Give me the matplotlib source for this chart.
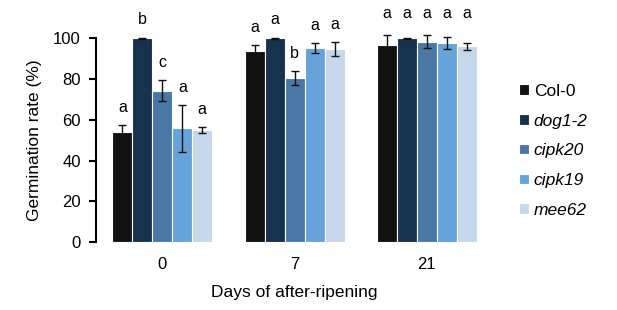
import matplotlib.pyplot as plt
import numpy as np

plt.rcParams['font.family'] = ['Liberation Sans', 'DejaVu Sans']

days = ['0', '7', '21']
lines = ['Col-0', 'dog1-2', 'cipk20', 'cipk19', 'mee62']
colors = ['#121212', '#17324d', '#4a78a6', '#67a3db', '#c5d7ea']

# germination rate (%) per line, one value per day group
col0 = [53.9, 93.9, 96.4]
dog12 = [100.0, 100.0, 100.0]
cipk20 = [74.3, 80.4, 98.3]
cipk19 = [55.8, 95.1, 97.6]
mee62 = [55.0, 94.6, 95.9]

col0_err = [3.4, 2.5, 5.0]
dog12_err = [0.3, 0.3, 0.3]
cipk20_err = [5.2, 3.5, 3.0]
cipk19_err = [11.4, 2.4, 2.8]
mee62_err = [1.5, 3.3, 1.7]

col0_sig = ['a', 'a', 'a']
dog12_sig = ['b', 'a', 'a']
cipk20_sig = ['c', 'b', 'a']
cipk19_sig = ['a', 'a', 'a']
mee62_sig = ['a', 'a', 'a']

values = [col0, dog12, cipk20, cipk19, mee62]
errors = [col0_err, dog12_err, cipk20_err, cipk19_err, mee62_err]
letters = [col0_sig, dog12_sig, cipk20_sig, cipk19_sig, mee62_sig]

fig = plt.figure(figsize=(6.17, 3.10), dpi=100)
ax = fig.add_axes([0.156, 0.219, 0.643, 0.658])

x = np.arange(len(days))
w = 0.151
handles = []
for i in range(len(lines)):
    xs = x + (i - 2) * w
    b = ax.bar(xs, values[i], width=w, color=colors[i], edgecolor='white',
               linewidth=0.8, label=lines[i])
    eb = ax.errorbar(xs, values[i], yerr=errors[i], fmt='none', ecolor='#111111',
                     elinewidth=1, capsize=3, capthick=1)
    for art in eb.lines[1] + eb.lines[2]:
        art.set_clip_on(False)
    for j in range(len(days)):
        top = values[i][j] + errors[i][j]
        if j == 2:
            # last group letters sit on one line
            top = max(v[j] + e[j] for v, e in zip(values, errors)) + 2
        ax.text(xs[j], top + 5, letters[i][j],
                ha='center', va='bottom', fontsize=11.5, clip_on=False)
    handles.append(b)

ax.set_xlim(-0.5, 2.5)
ax.set_ylim(0, 100)
ax.set_yticks([0, 20, 40, 60, 80, 100])
ax.set_xticks(x)
ax.set_xticklabels(days)
ax.tick_params(axis='x', length=0, labelsize=12, pad=11)
ax.tick_params(axis='y', labelsize=12, width=1.5, length=5, direction='out', pad=6)
for s in ['top', 'right', 'bottom']:
    ax.spines[s].set_visible(False)
ax.spines['left'].set_linewidth(1.5)
ax.set_ylabel('Germination rate (%)', fontsize=12.5, labelpad=8)
ax.set_xlabel('Days of after-ripening', fontsize=12.5, labelpad=9)

leg = fig.legend(handles=handles, labels=lines, loc='upper left',
                 bbox_to_anchor=(0.816, 0.78), frameon=False,
                 fontsize=12.5, handlelength=0.55, handleheight=0.55,
                 handletextpad=0.3, labelspacing=0.85)
for t in leg.get_texts()[1:]:
    t.set_style('italic')

fig.savefig('out.png', dpi=100)
